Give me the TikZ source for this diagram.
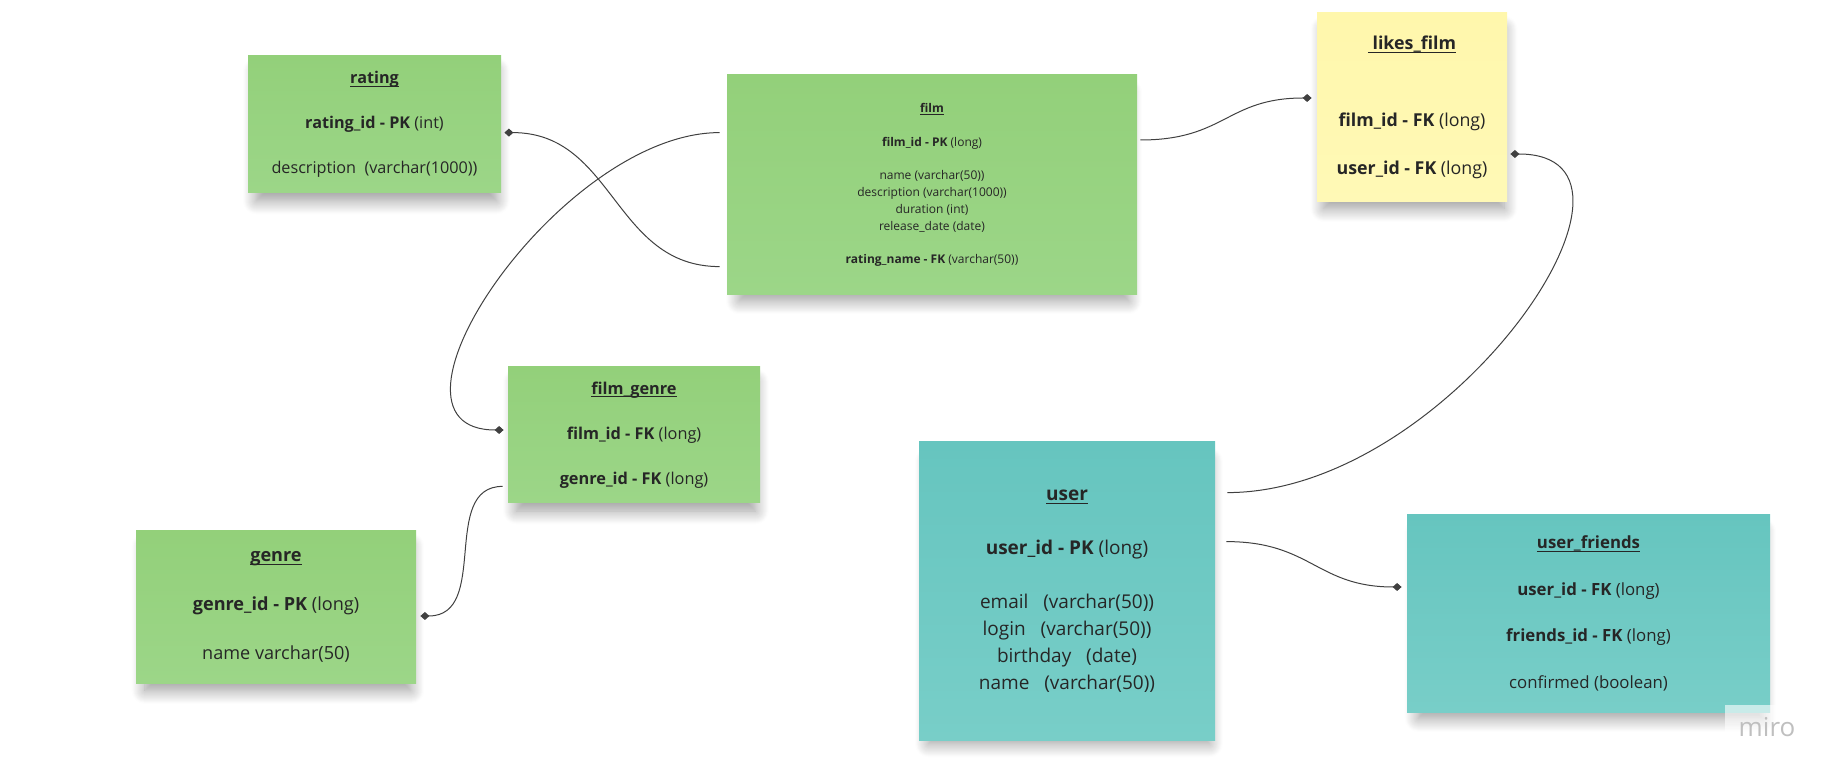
\documentclass[tikz,border=0pt]{standalone}
\usepackage{amsmath}
\usepackage{fontspec}
\setmainfont{Open Sans}
\usetikzlibrary{arrows.meta,calc,shadows.blur}

\definecolor{greentop}{HTML}{93D07A}
\definecolor{greenbot}{HTML}{9CD688}
\definecolor{tealtop}{HTML}{66C5BF}
\definecolor{tealbot}{HTML}{78CEC8}
\definecolor{yellowtop}{HTML}{FFF7AC}
\definecolor{yellowbot}{HTML}{FFF9B6}
\definecolor{inktext}{HTML}{262626}

\newcommand{\tbltitle}[1]{\underline{\smash[b]{\textbf{#1}}}}

\tikzset{
  sticky/.style={rectangle, inner sep=0pt, align=center, text=inktext,
    blur shadow={shadow xshift=1pt, shadow yshift=-6pt, shadow scale=0.95, shadow opacity=40, shadow blur steps=14, shadow blur radius=7pt}},
  greennote/.style={sticky, top color=greentop, bottom color=greenbot},
  tealnote/.style={sticky, top color=tealtop, bottom color=tealbot},
  yellownote/.style={sticky, top color=yellowtop, bottom color=yellowbot},
  fk/.style={draw=black!75, line width=0.5pt, -{Diamond[length=4.5pt,width=4pt]}}
}

\begin{document}
\begin{tikzpicture}[x=0.5pt, y=-0.5pt]
    \useasboundingbox (0,0) rectangle (1840,779);

    % Tables
    \node[greennote, minimum width=126.5pt, minimum height=68.5pt,
          font={\fontsize{8.1pt}{22.5pt}\selectfont}] (rating) at (374.5,124.5)
        {\tbltitle{rating}\\
         \textbf{rating\_id - PK} (int)\\
         description\ \ (varchar(1000))};

    \node[greennote, minimum width=205pt, minimum height=110pt,
          font={\fontsize{6pt}{8.4pt}\selectfont}] (film) at (932,185)
        {\tbltitle{film}\\[8.4pt]
         \textbf{film\_id - PK} (long)\\[8.4pt]
         name (varchar(50))\\
         description (varchar(1000))\\
         duration (int)\\
         release\_date (date)\\[8.4pt]
         \textbf{rating\_name - FK} (varchar(50))};

    \node[yellownote, minimum width=95pt, minimum height=94.5pt,
          font={\fontsize{8.9pt}{24pt}\selectfont}] (likes_film) at (1412,107.5)
        {\tbltitle{\ likes\_film}\\[14.5pt]
         \textbf{film\_id - FK} (long)\\
         \textbf{user\_id - FK} (long)};

    \node[greennote, minimum width=126pt, minimum height=68pt,
          font={\fontsize{8.15pt}{22.5pt}\selectfont}] (film_genre) at (634,435)
        {\tbltitle{film\_genre}\\
         \textbf{film\_id - FK} (long)\\
         \textbf{genre\_id - FK} (long)};

    \node[greennote, minimum width=140pt, minimum height=76pt,
          font={\fontsize{9.05pt}{24.5pt}\selectfont}] (genre) at (276,607)
        {\tbltitle{genre}\\
         \textbf{genre\_id - PK} (long)\\
         name varchar(50)};

    \node[tealnote, minimum width=148pt, minimum height=149pt,
          font={\fontsize{9.5pt}{13.5pt}\selectfont}] (user) at (1067,591)
        {\tbltitle{user}\\[13.5pt]
         \textbf{user\_id - PK} (long)\\[13.5pt]
         email\ \ \ (varchar(50))\\
         login\ \ \ (varchar(50))\\
         birthday\ \ \ (date)\\
         name\ \ \ (varchar(50))};

    \node[tealnote, minimum width=181.5pt, minimum height=98.5pt,
          font={\fontsize{8.4pt}{23.3pt}\selectfont}] (user_friends) at (1588.5,613.5)
        {\tbltitle{user\_friends}\\
         \textbf{user\_id - FK} (long)\\
         \textbf{friends\_id - FK} (long)\\
         confirmed (boolean)};

    % Watermark
    \node[fill=white, fill opacity=0.6, text opacity=1, text=black!25,
          minimum width=42pt, minimum height=22pt, inner sep=0pt,
          font={\fontsize{13pt}{13pt}\selectfont}] (miro) at (1767,727) {miro};

    % Relations
    \draw[fk] ($(film.north west)+(-7,192)$) .. controls +(-106,0) and +(110,0) .. ($(rating.north east)+(3,77)$);
    \draw[fk] ($(film.north west)+(-7,58)$) .. controls +(-160,0) and +(-144,0) .. ($(film_genre.west)+(-4,-5)$);
    \draw[fk] ($(film.east)+(3,-45)$) .. controls +(85,0) and +(-85,0) .. ($(likes_film.west)+(-5,-9.5)$);
    \draw[fk] ($(user.north east)+(12,51)$) .. controls +(223,0) and +(170,0) .. ($(likes_film.east)+(3,46.5)$);
    \draw[fk] ($(user.north east)+(11,100)$) .. controls +(85,0) and +(-85,0) .. ($(user_friends.west)+(-5,-26.5)$);
    \draw[fk] ($(film_genre.south west)+(-5,-17)$) .. controls +(-63,0) and +(70,0) .. ($(genre.east)+(4,9)$);
\end{tikzpicture}
\end{document}
